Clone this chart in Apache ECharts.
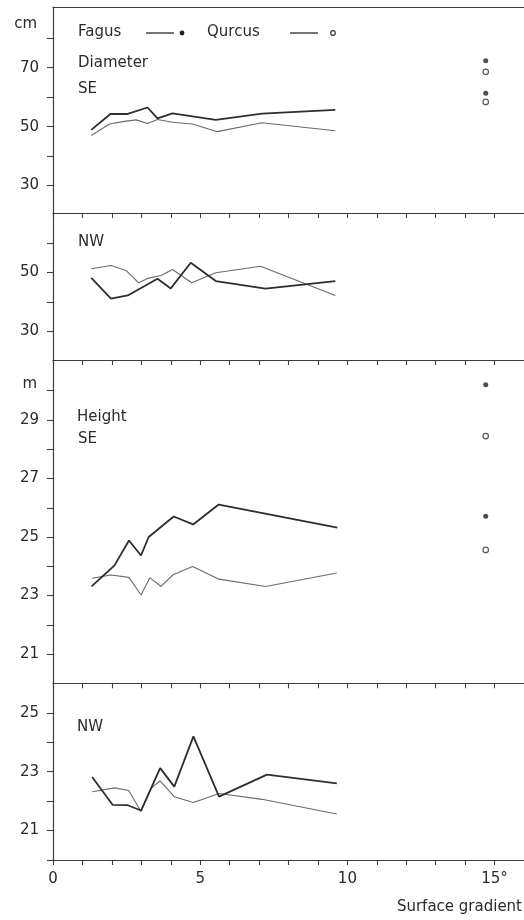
<!DOCTYPE html>
<html>
<head>
<meta charset="utf-8">
<script src="https://cdn.jsdelivr.net/npm/echarts@6/dist/echarts.min.js"></script>
<style>
  html, body { margin: 0; padding: 0; background: #fff; }
  #chart { width: 524px; height: 920px; }
</style>
</head>
<body>
<div id="chart"></div>
<script>
// Surface gradient (degrees) vs. mean diameter (cm) and height (m) of Fagus and Qurcus

// Diameter, SE slopes
const diaSeFagusX = [1.30, 1.95, 2.54, 3.21, 3.55, 4.06, 5.53, 7.10, 9.59];
const diaSeFagusY = [48.9, 54.3, 54.3, 56.5, 52.8, 54.5, 52.3, 54.4, 55.7];
const diaSeQurcusX = [1.30, 1.92, 2.37, 2.82, 3.21, 3.55, 4.06, 4.74, 5.58, 7.10, 9.59];
const diaSeQurcusY = [47.0, 50.9, 51.7, 52.3, 51.1, 52.4, 51.5, 50.9, 48.3, 51.3, 48.6];

// Diameter, NW slopes
const diaNwFagusX = [1.30, 1.97, 2.54, 3.55, 4.00, 4.68, 5.53, 7.22, 9.59];
const diaNwFagusY = [48.2, 41.1, 42.2, 47.9, 44.6, 53.3, 47.1, 44.5, 47.1];
const diaNwQurcusX = [1.30, 1.97, 2.48, 2.91, 3.21, 3.67, 4.06, 4.71, 5.53, 7.05, 9.59];
const diaNwQurcusY = [51.3, 52.4, 50.7, 46.5, 48.0, 49.0, 51.0, 46.5, 49.9, 52.1, 42.2];

// Height, SE slopes
const hSeFagusX = [1.31, 2.09, 2.58, 2.99, 3.25, 4.10, 4.76, 5.63, 9.66];
const hSeFagusY = [23.31, 24.03, 24.88, 24.37, 25.00, 25.70, 25.43, 26.11, 25.32];
const hSeQurcusX = [1.33, 1.97, 2.58, 2.99, 3.29, 3.67, 4.08, 4.74, 5.64, 7.22, 9.64];
const hSeQurcusY = [23.59, 23.70, 23.62, 23.02, 23.61, 23.31, 23.71, 23.99, 23.56, 23.31, 23.77];

// Height, NW slopes
const hNwFagusX = [1.33, 2.03, 2.54, 2.99, 3.64, 4.12, 4.77, 5.64, 7.27, 9.64];
const hNwFagusY = [22.82, 21.87, 21.86, 21.68, 23.12, 22.49, 24.20, 22.15, 22.90, 22.60];
const hNwQurcusX = [1.33, 2.09, 2.57, 2.99, 3.33, 3.64, 4.12, 4.77, 5.64, 7.10, 9.64];
const hNwQurcusY = [22.32, 22.45, 22.36, 21.65, 22.43, 22.69, 22.15, 21.95, 22.26, 22.06, 21.56];

// Separate readings at the steep end
const steepX = 14.7;
const steepDiaFagus = [72.4, 61.3];
const steepDiaQurcus = [68.6, 58.4];
const steepHFagus = [30.2, 25.71];
const steepHQurcus = [28.45, 24.56];

// Axis ticks and labels
const xTicks = [0, 1, 2, 3, 4, 5, 6, 7, 8, 9, 10, 11, 12, 13, 14, 15];
const xLabels = [0, 5, 10, 15];
const diaSeTicks = [30, 40, 50, 60, 70, 80];
const diaSeLabels = [30, 50, 70];
const diaNwTicks = [20, 30, 40, 50, 60];
const diaNwLabels = [30, 50];
const hSeTicks = [21, 22, 23, 24, 25, 26, 27, 28, 29, 30];
const hSeLabels = [21, 23, 25, 27, 29];
const hNwTicks = [20, 21, 22, 23, 24, 25];
const hNwLabels = [21, 23, 25];

const FONT = 'DejaVu Sans';
const INK = '#2b2b2b';
const AXIS = '#3c3c3c';
const FAGUS = '#2e2e2e';
const QURCUS = '#6a6a6a';

const zip = (xs, ys) => xs.map((x, i) => [x, ys[i]]);
const column = (x, ys) => ys.map(y => [x, y]);

const panels = [
  { top: 7,     height: 206,   min: 20.7, max: 90.6, ticks: diaSeTicks, labels: diaSeLabels, topTicks: false },
  { top: 213,   height: 147,   min: 20.3, max: 70.2, ticks: diaNwTicks, labels: diaNwLabels, topTicks: true },
  { top: 360,   height: 323.3, min: 20.0, max: 31.05, ticks: hSeTicks, labels: hSeLabels, topTicks: true },
  { top: 683.3, height: 176.7, min: 20.0, max: 26.0, ticks: hNwTicks, labels: hNwLabels, topTicks: true }
];

const axisLine = { show: true, lineStyle: { color: AXIS, width: 1.2 } };

const grid = panels.map(p => ({ left: 53, right: -2, top: p.top, height: p.height }));

const xAxis = panels.map((p, i) => ({
  type: 'value', gridIndex: i, position: 'top', min: 0, max: 16,
  axisLine: axisLine,
  axisTick: { show: p.topTicks, inside: true, length: 5, customValues: xTicks,
              lineStyle: { color: AXIS, width: 1.1 } },
  axisLabel: { show: false },
  splitLine: { show: false }
}));
xAxis.push({
  type: 'value', gridIndex: 3, position: 'bottom', min: 0, max: 16,
  axisLine: axisLine,
  axisTick: { show: true, inside: false, length: 5, customValues: xTicks,
              lineStyle: { color: AXIS, width: 1.1 } },
  axisLabel: { show: true, customValues: xLabels, margin: 12, fontSize: 15,
               fontFamily: FONT, color: INK,
               formatter: v => (v === 15 ? '15°' : String(v)) },
  splitLine: { show: false }
});

const yAxis = panels.map((p, i) => ({
  type: 'value', gridIndex: i, min: p.min, max: p.max,
  axisLine: axisLine,
  axisTick: { show: true, inside: false, length: 6, customValues: p.ticks,
              lineStyle: { color: AXIS, width: 1.1 } },
  axisLabel: { show: true, customValues: p.labels, margin: 14, fontSize: 15,
               fontFamily: FONT, color: INK },
  splitLine: { show: false }
}));

function trend(name, idx, data, color, width) {
  return {
    name: name, type: 'line', xAxisIndex: idx, yAxisIndex: idx, data: data,
    symbol: 'none', silent: true,
    lineStyle: { color: color, width: width }
  };
}
function filledDots(name, idx, data) {
  return {
    name: name, type: 'scatter', xAxisIndex: idx, yAxisIndex: idx, data: data,
    symbol: 'circle', symbolSize: 5, silent: true,
    itemStyle: { color: '#222' }
  };
}
function openDots(name, idx, data) {
  return {
    name: name, type: 'scatter', xAxisIndex: idx, yAxisIndex: idx, data: data,
    symbol: 'circle', symbolSize: 5.5, silent: true,
    itemStyle: { color: '#fff', borderColor: '#333', borderWidth: 1.2 }
  };
}

const series = [
  trend('Qurcus', 0, zip(diaSeQurcusX, diaSeQurcusY), QURCUS, 1.1),
  trend('Fagus', 0, zip(diaSeFagusX, diaSeFagusY), FAGUS, 1.8),
  trend('Qurcus', 1, zip(diaNwQurcusX, diaNwQurcusY), QURCUS, 1.1),
  trend('Fagus', 1, zip(diaNwFagusX, diaNwFagusY), FAGUS, 1.8),
  trend('Qurcus', 2, zip(hSeQurcusX, hSeQurcusY), QURCUS, 1.1),
  trend('Fagus', 2, zip(hSeFagusX, hSeFagusY), FAGUS, 1.8),
  trend('Qurcus', 3, zip(hNwQurcusX, hNwQurcusY), QURCUS, 1.1),
  trend('Fagus', 3, zip(hNwFagusX, hNwFagusY), FAGUS, 1.8),
  filledDots('Fagus', 0, column(steepX, steepDiaFagus)),
  openDots('Qurcus', 0, column(steepX, steepDiaQurcus)),
  filledDots('Fagus', 2, column(steepX, steepHFagus)),
  openDots('Qurcus', 2, column(steepX, steepHQurcus))
];

function label(text, x, y, align) {
  return {
    type: 'text', x: x, y: y, silent: true,
    style: { text: text, font: '15px "' + FONT + '"', fill: INK,
             textAlign: align || 'left', textVerticalAlign: 'middle' }
  };
}

const graphic = [
  // key
  label('Fagus', 78, 32),
  { type: 'line', silent: true, shape: { x1: 146, y1: 33, x2: 174, y2: 33 },
    style: { stroke: FAGUS, lineWidth: 1.3 } },
  { type: 'circle', silent: true, shape: { cx: 182, cy: 33, r: 2.4 }, style: { fill: '#222' } },
  label('Qurcus', 207, 32),
  { type: 'line', silent: true, shape: { x1: 290, y1: 33, x2: 318, y2: 33 },
    style: { stroke: FAGUS, lineWidth: 1.3 } },
  { type: 'circle', silent: true, shape: { cx: 333, cy: 33, r: 2.3 },
    style: { fill: '#fff', stroke: '#333', lineWidth: 1.2 } },
  // unit captions
  label('cm', 37, 24, 'right'),
  label('m', 37, 384, 'right'),
  // panel captions
  label('Diameter', 78, 63),
  label('SE', 78, 89),
  label('NW', 78, 242),
  label('Height', 77, 417),
  label('SE', 78, 439),
  label('NW', 77, 727),
  // axis title
  label('Surface gradient', 522, 907, 'right')
];

const chart = echarts.init(document.getElementById('chart'), null, { renderer: 'canvas' });
chart.setOption({
  animation: false,
  backgroundColor: '#ffffff',
  grid: grid,
  xAxis: xAxis,
  yAxis: yAxis,
  series: series,
  graphic: graphic
});
</script>
</body>
</html>
